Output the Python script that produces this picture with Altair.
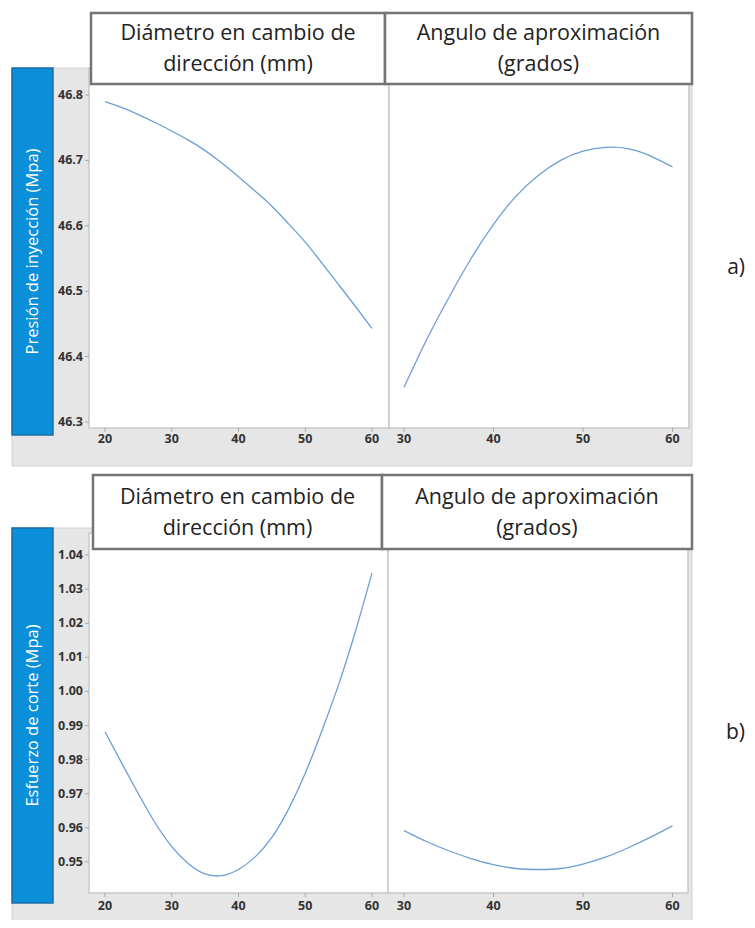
import altair as alt
import pandas as pd

# ---------------- data ----------------
diam_x = [20, 22.5, 25, 27.5, 30, 32.5, 35, 37.5, 40, 42.5, 45, 47.5, 50, 52.5, 55, 57.5, 60]
ang_x = [30, 32.5, 35, 37.5, 40, 42.5, 45, 47.5, 50, 52.5, 55, 57.5, 60]

presion_diam = [46.790, 46.781, 46.770, 46.758, 46.745, 46.731, 46.715, 46.696, 46.675,
                46.653, 46.630, 46.603, 46.575, 46.543, 46.510, 46.477, 46.443]
presion_ang = [46.353, 46.425, 46.490, 46.550, 46.602, 46.645, 46.677, 46.700, 46.714,
               46.720, 46.718, 46.707, 46.690]
esfuerzo_diam = [0.9882, 0.9790, 0.9700, 0.9615, 0.9545, 0.9495, 0.9465, 0.9460, 0.9478,
                 0.9515, 0.9572, 0.9655, 0.9760, 0.9885, 1.0020, 1.0175, 1.0347]
esfuerzo_ang = [0.9592, 0.9560, 0.9533, 0.9510, 0.9492, 0.9481, 0.9478, 0.9481, 0.9494,
                0.9514, 0.9541, 0.9572, 0.9606]

diam_ticks = [20, 30, 40, 50, 60]
ang_ticks = [30, 40, 50, 60]
presion_ticks = [46.3, 46.4, 46.5, 46.6, 46.7, 46.8]
esfuerzo_ticks = [0.95, 0.96, 0.97, 0.98, 0.99, 1.00, 1.01, 1.02, 1.03, 1.04]
esfuerzo_labels = ["0.95", "0.96", "0.97", "0.98", "0.99", "1.00", "1.01", "1.02", "1.03", "1.04"]
presion_labels = ["46.3", "46.4", "46.5", "46.6", "46.7", "46.8"]

header_diam = ["Diámetro en cambio de", "dirección (mm)"]
header_ang = ["Angulo de aproximación", "(grados)"]
ylabel_top = "Presión de inyección (Mpa)"
ylabel_bot = "Esfuerzo de corte  (Mpa)"

# panel extents (axis limits in data units)
diam_lim_top = [17.6, 62.55]
ang_lim_top = [28.32, 61.84]
diam_lim_bot = [17.6, 62.4]
ang_lim_bot = [28.21, 61.73]
presion_lim = [46.291, 46.841]
esfuerzo_lim = [0.9409, 1.0464]

# ---------------- style ----------------
LINE = "#6b9fd6"
GRAY_BG = "#e6e6e6"
BLUE = "#0a8fd8"
BLUE_EDGE = "#1b6fa6"
HDR_EDGE = "#747474"
FRAME = "#c9c9c9"
TICK_TXT = "#333333"
FONT = "Open Sans"

one = pd.DataFrame({"a": [0]})


def panel(xs, ys, xdom, xrng, ydom, yrng, xlim, ylim, xticks, yticks, ylabels,
          xlab_y, tick_y, show_y):
    xsc = alt.Scale(domain=xdom, range=xrng, nice=False, zero=False)
    ysc = alt.Scale(domain=ydom, range=yrng, nice=False, zero=False)
    frame = alt.Chart(pd.DataFrame({"x0": [xlim[0]], "x1": [xlim[1]],
                                    "y0": [ylim[0]], "y1": [ylim[1]]})).mark_rect(
        fill="white", stroke=FRAME, strokeWidth=1.5).encode(
        x=alt.X("x0:Q", scale=xsc, axis=None), x2="x1:Q",
        y=alt.Y("y0:Q", scale=ysc, axis=None), y2="y1:Q")
    line = alt.Chart(pd.DataFrame({"x": xs, "y": ys})).mark_line(
        color=LINE, strokeWidth=1.3, interpolate="natural").encode(
        x=alt.X("x:Q", scale=xsc, axis=None),
        y=alt.Y("y:Q", scale=ysc, axis=None))
    xt = pd.DataFrame({"v": xticks, "t": [str(v) for v in xticks]})
    xlab = alt.Chart(xt).mark_text(font=FONT, fontSize=12.5, fontWeight="bold",
                                   color=TICK_TXT, align="center", baseline="middle").encode(
        x=alt.X("v:Q", scale=xsc, axis=None), y=alt.value(xlab_y), text="t:N")
    xtm = alt.Chart(xt).mark_rule(color="#aaaaaa", strokeWidth=1).encode(
        x=alt.X("v:Q", scale=xsc, axis=None), y=alt.value(tick_y), y2=alt.value(tick_y + 4))
    layers = [frame, xtm, xlab, line]
    if show_y:
        yt = pd.DataFrame({"v": yticks, "t": ylabels})
        ylab = alt.Chart(yt).mark_text(font=FONT, fontSize=12.5, fontWeight="bold",
                                       color=TICK_TXT, align="right", baseline="middle").encode(
            y=alt.Y("v:Q", scale=ysc, axis=None), x=alt.value(75), text="t:N")
        ytm = alt.Chart(yt).mark_rule(color="#aaaaaa", strokeWidth=1).encode(
            y=alt.Y("v:Q", scale=ysc, axis=None), x=alt.value(77), x2=alt.value(81))
        layers += [ytm, ylab]
    return alt.layer(*layers)


def rect(x0, x1, y0, y1, **kw):
    return alt.Chart(one).mark_rect(**kw).encode(
        x=alt.value(x0), x2=alt.value(x1), y=alt.value(y0), y2=alt.value(y1))


def text(s, x, y, **kw):
    return alt.Chart(one).mark_text(text=s, **kw).encode(x=alt.value(x), y=alt.value(y))


hdr_kw = dict(font=FONT, fontSize=21.5, color="#222222", align="center", baseline="middle")
lab_kw = dict(font=FONT, fontSize=21, color="#222222", align="right", baseline="middle")
blue_kw = dict(angle=270, font=FONT, fontSize=16.5, color="white",
               align="center", baseline="middle")

deco_back = [
    rect(4, 684, 60, 458, fill=GRAY_BG, stroke="#d2d2d2", strokeWidth=1),
    rect(4, 684, 520, 930, fill=GRAY_BG, stroke="#d2d2d2", strokeWidth=1),
]

panels = [
    panel(diam_x, presion_diam, [20, 60], [97, 364], [46.3, 46.8], [414, 87],
          diam_lim_top, presion_lim, diam_ticks, presion_ticks, presion_labels, 431, 420, True),
    panel(ang_x, presion_ang, [30, 60], [396, 664.5], [46.3, 46.8], [414, 87],
          ang_lim_top, presion_lim, ang_ticks, presion_ticks, presion_labels, 431, 420, False),
    panel(diam_x, esfuerzo_diam, [20, 60], [97, 364], [0.95, 1.04], [854, 547],
          diam_lim_bot, esfuerzo_lim, diam_ticks, esfuerzo_ticks, esfuerzo_labels, 898, 885, True),
    panel(ang_x, esfuerzo_ang, [30, 60], [396, 664.5], [0.95, 1.04], [854, 547],
          ang_lim_bot, esfuerzo_lim, ang_ticks, esfuerzo_ticks, esfuerzo_labels, 898, 885, False),
]

deco_front = [
    rect(4, 45, 60, 427, fill=BLUE, stroke=BLUE_EDGE, strokeWidth=1.5),
    rect(4, 45, 520, 895, fill=BLUE, stroke=BLUE_EDGE, strokeWidth=1.5),
    text(ylabel_top, 25, 243.5, **blue_kw),
    text(ylabel_bot, 25, 707.5, **blue_kw),
    rect(83, 377, 5, 76, fill="white", stroke=HDR_EDGE, strokeWidth=2.5),
    rect(377, 684, 5, 76, fill="white", stroke=HDR_EDGE, strokeWidth=2.5),
    rect(85, 374, 467, 541, fill="white", stroke=HDR_EDGE, strokeWidth=2.5),
    rect(374, 684, 467, 541, fill="white", stroke=HDR_EDGE, strokeWidth=2.5),
    text(header_diam[0], 230, 26, **hdr_kw),
    text(header_diam[1], 230, 57, **hdr_kw),
    text(header_ang[0], 530.5, 26, **hdr_kw),
    text(header_ang[1], 530.5, 57, **hdr_kw),
    text(header_diam[0], 229.5, 490, **hdr_kw),
    text(header_diam[1], 229.5, 521, **hdr_kw),
    text(header_ang[0], 529, 490, **hdr_kw),
    text(header_ang[1], 529, 521, **hdr_kw),
    text("a)", 737, 260, **lab_kw),
    text("b)", 737, 725, **lab_kw),
]

chart = alt.layer(*deco_back, *panels, *deco_front).resolve_scale(
    x="independent", y="independent"
).properties(
    width=739, height=912, autosize="none", padding=0
).configure_view(stroke=None)

chart.save("out.html", embed_options={"renderer": "svg", "actions": False})
